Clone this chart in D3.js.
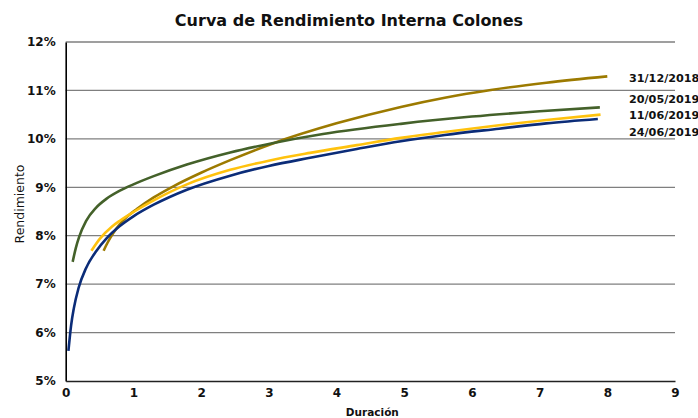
<!DOCTYPE html>
<html>
<head>
<meta charset="utf-8">
<script src="https://cdn.jsdelivr.net/npm/d3@7/dist/d3.min.js"></script>
<style>
  html, body { margin: 0; padding: 0; background: #fff; }
  svg { display: block; }
  text { font-family: "DejaVu Sans", sans-serif; }
</style>
</head>
<body>
<svg id="chart" width="698" height="418"></svg>
<script>
// ---- data ----
const seriesNames = ["31/12/2018", "20/05/2019", "11/06/2019", "24/06/2019"];
const seriesColors = ["#9c7a00", "#44612a", "#ffc20e", "#0b2c78"];

const dur_31_12_2018 = [0.56, 0.62, 0.7, 0.8, 0.92, 1.05, 1.3, 1.59, 2.0, 2.43, 3.05, 4.0, 4.95, 5.6, 6.28, 7.1, 8.0];
const ren_31_12_2018 = [7.69, 7.86, 8.05, 8.24, 8.41, 8.55, 8.79, 9.02, 9.30, 9.56, 9.90, 10.32, 10.66, 10.85, 11.01, 11.16, 11.29];

const dur_20_05_2019 = [0.103, 0.15, 0.2, 0.3, 0.45, 0.6, 0.8, 1.0, 1.3, 1.79, 2.43, 3.05, 3.8, 4.95, 6.0, 7.0, 7.89];
const ren_20_05_2019 = [7.46, 7.75, 7.98, 8.30, 8.58, 8.76, 8.93, 9.06, 9.23, 9.47, 9.72, 9.91, 10.10, 10.31, 10.46, 10.57, 10.65];

const dur_11_06_2019 = [0.38, 0.5, 0.685, 0.8, 1.0, 1.3, 1.79, 2.43, 3.0, 3.61, 4.3, 4.95, 5.6, 6.4, 7.1, 7.9];
const ren_11_06_2019 = [7.69, 7.93, 8.19, 8.31, 8.49, 8.73, 9.06, 9.36, 9.55, 9.71, 9.87, 10.02, 10.14, 10.28, 10.39, 10.50];

const dur_24_06_2019 = [0.04, 0.08, 0.12, 0.19, 0.3, 0.45, 0.6, 0.8, 1.0, 1.3, 1.79, 2.43, 3.0, 3.61, 4.3, 4.95, 5.6, 6.4, 7.1, 7.86];
const ren_24_06_2019 = [5.62, 6.15, 6.50, 6.92, 7.33, 7.68, 7.94, 8.20, 8.40, 8.64, 8.95, 9.24, 9.44, 9.61, 9.79, 9.95, 10.08, 10.21, 10.32, 10.41];

const xTicks = [0, 1, 2, 3, 4, 5, 6, 7, 8, 9];
const yTicks = [5, 6, 7, 8, 9, 10, 11, 12];
const labelDur = 8.32;
const labelRen = [11.26, 10.83, 10.49, 10.14];

const title = "Curva de Rendimiento Interna Colones";
const xTitle = "Duración";
const yTitle = "Rendimiento";

// ---- chart ----
const svg = d3.select("#chart");
const W = 698, H = 418;
const m = { left: 65.7, right: 23, top: 42, bottom: 37 };

const x = d3.scaleLinear().domain([0, 9]).range([m.left, W - m.right]);
const y = d3.scaleLinear().domain([5, 12]).range([H - m.bottom, m.top]);

// gridlines
svg.append("g")
  .selectAll("line")
  .data(yTicks.filter(t => t > 5))
  .join("line")
  .attr("x1", x(0)).attr("x2", x(9))
  .attr("y1", d => y(d)).attr("y2", d => y(d))
  .attr("stroke", "#7f7f7f").attr("stroke-width", 1.3);

// y axis
const yAxis = svg.append("g")
  .attr("transform", `translate(${x(0)},0)`)
  .call(d3.axisLeft(y).tickValues(yTicks).tickSize(0).tickPadding(10).tickFormat(d => d + "%"));
yAxis.select(".domain").attr("stroke", "#000").attr("stroke-width", 1.6);
yAxis.selectAll("text").attr("font-size", 12).attr("font-weight", "bold").attr("fill", "#111");

// x axis
const xAxis = svg.append("g")
  .attr("transform", `translate(0,${y(5)})`)
  .call(d3.axisBottom(x).tickValues(xTicks).tickSize(0).tickPadding(7).tickFormat(d3.format("d")));
xAxis.select(".domain").attr("stroke", "#222").attr("stroke-width", 1.6);
xAxis.selectAll("text").attr("font-size", 12).attr("font-weight", "bold").attr("fill", "#111");

// lines
const allDur = [dur_31_12_2018, dur_20_05_2019, dur_11_06_2019, dur_24_06_2019];
const allRen = [ren_31_12_2018, ren_20_05_2019, ren_11_06_2019, ren_24_06_2019];
const line = d3.line().x(d => x(d[0])).y(d => y(d[1])).curve(d3.curveMonotoneX);

seriesNames.forEach((name, i) => {
  const pts = allDur[i].map((dv, j) => [dv, allRen[i][j]]);
  svg.append("path")
    .datum(pts)
    .attr("d", line)
    .attr("fill", "none")
    .attr("stroke", seriesColors[i])
    .attr("stroke-width", 2.6)
    .attr("stroke-linecap", "butt");
});

// series labels
svg.append("g")
  .selectAll("text")
  .data(seriesNames)
  .join("text")
  .attr("x", x(labelDur))
  .attr("y", (d, i) => y(labelRen[i]))
  .attr("dy", "0.35em")
  .attr("font-size", 11.2)
  .attr("font-weight", "bold")
  .attr("fill", "#111")
  .text(d => d);

// title
svg.append("text")
  .attr("x", 349).attr("y", 26)
  .attr("text-anchor", "middle")
  .attr("font-size", 16)
  .attr("font-weight", "bold")
  .attr("fill", "#111")
  .text(title);

// axis titles
svg.append("text")
  .attr("x", (x(0) + x(9)) / 2 + 2).attr("y", 416)
  .attr("text-anchor", "middle")
  .attr("font-size", 10.5)
  .attr("font-weight", "bold")
  .attr("fill", "#111")
  .text(xTitle);

svg.append("text")
  .attr("transform", `translate(24,204) rotate(-90)`)
  .attr("text-anchor", "middle")
  .attr("font-size", 12.5)
  .attr("fill", "#111")
  .text(yTitle);
</script>
</body>
</html>
